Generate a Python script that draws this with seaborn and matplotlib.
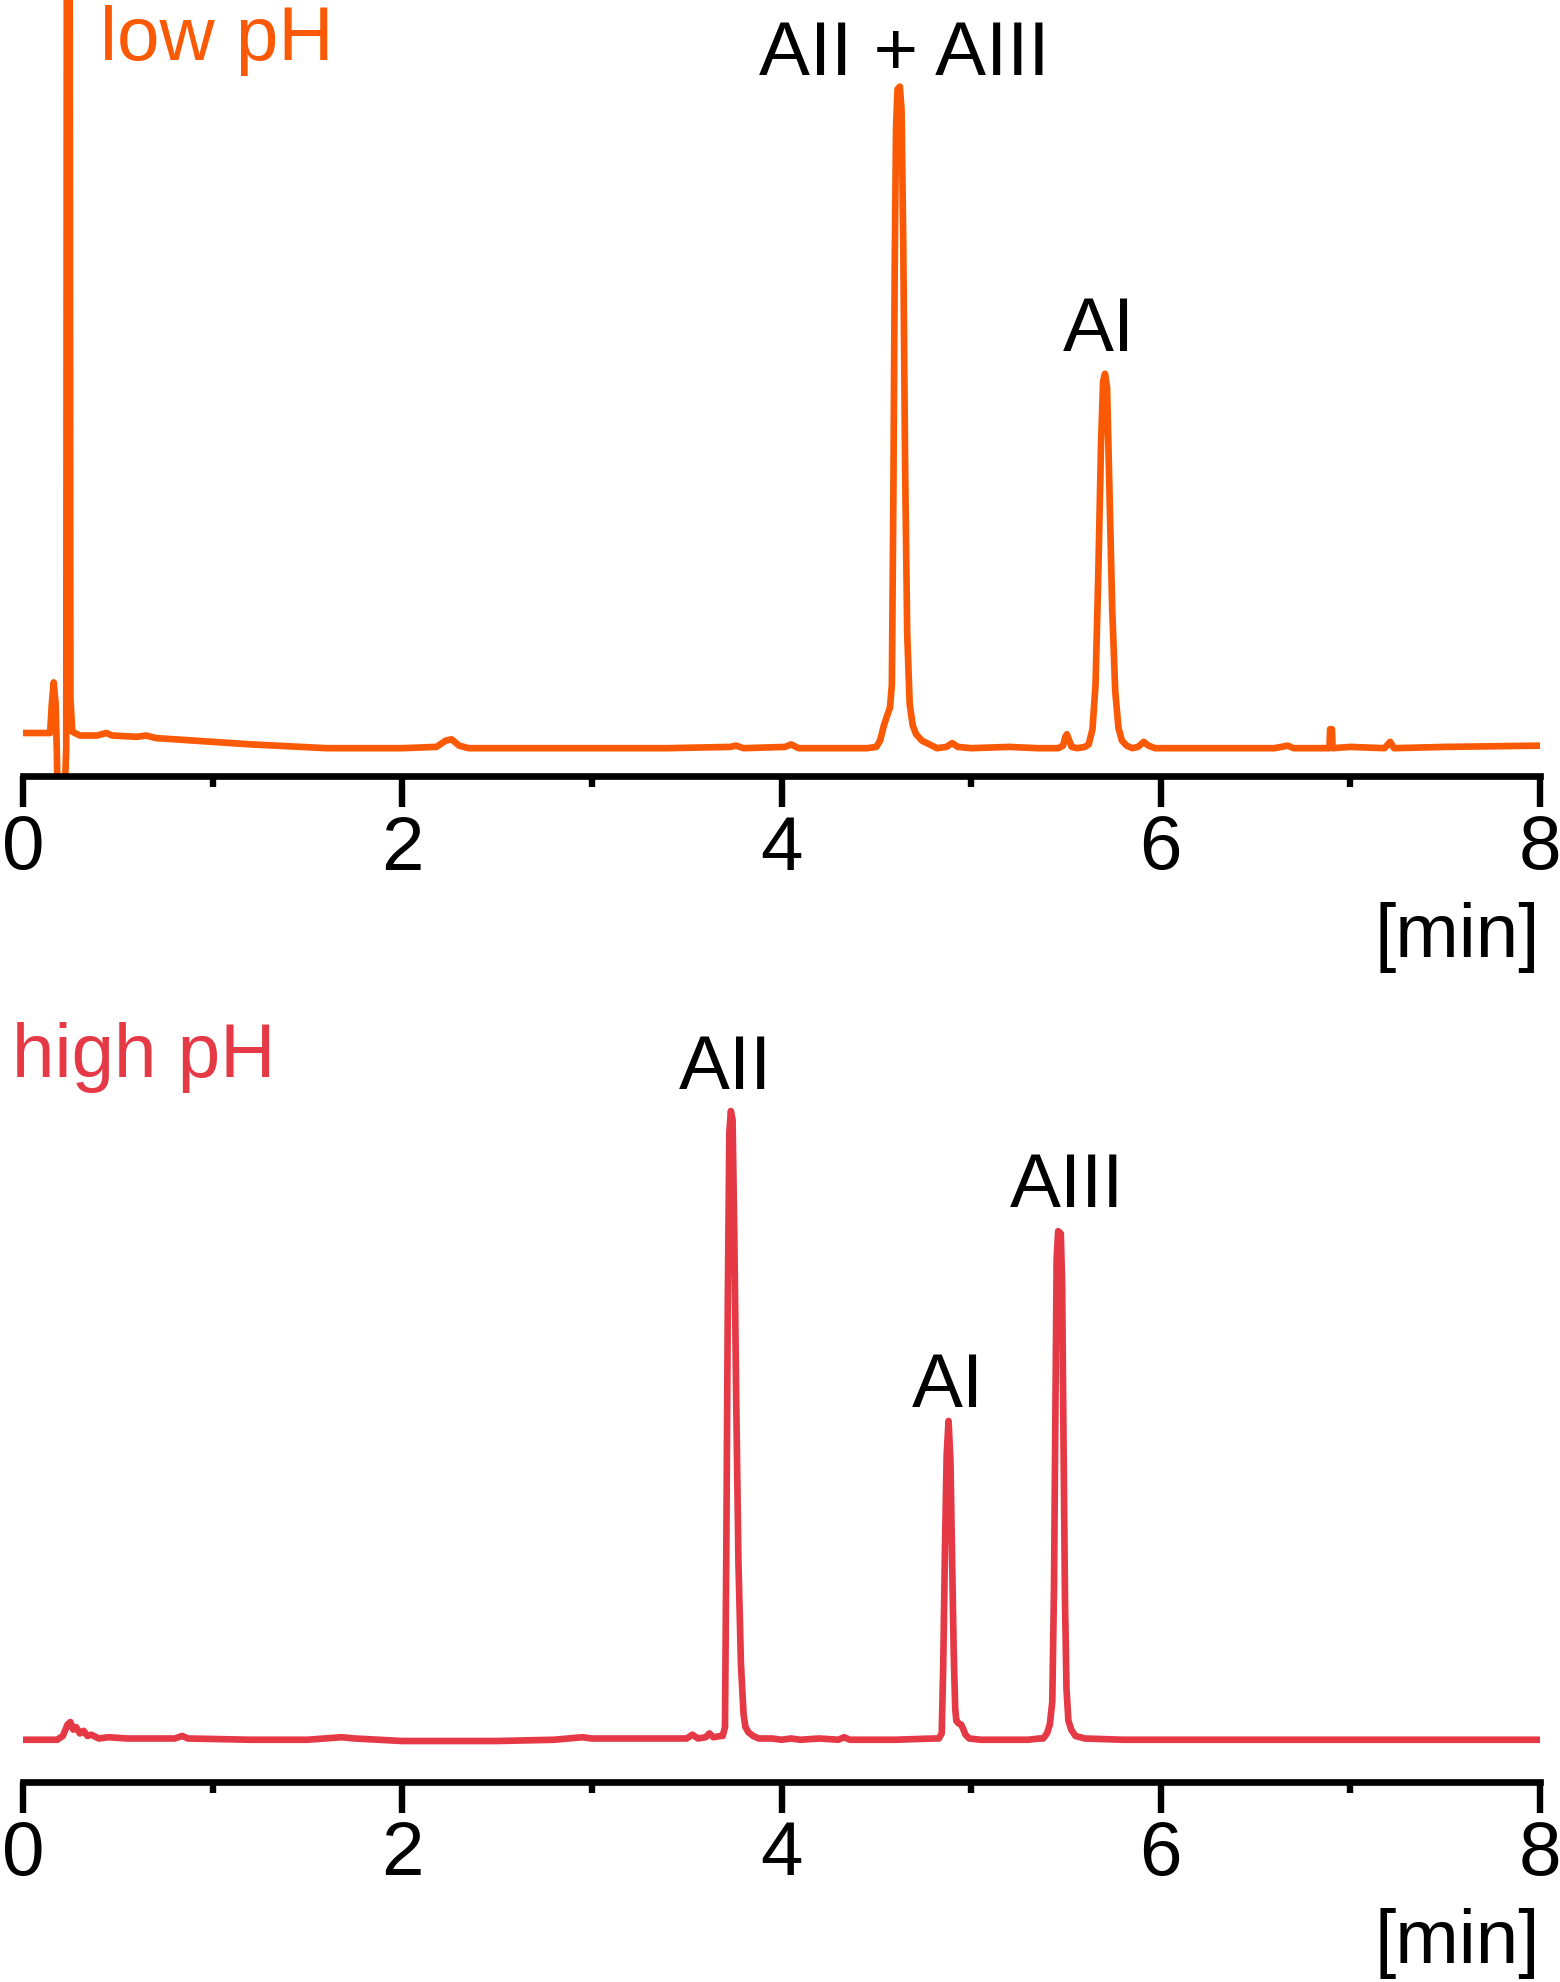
import numpy as np
import pandas as pd
import seaborn as sns
import matplotlib.pyplot as plt

# Chromatogramas: pH bajo (arriba) y pH alto (abajo)

# tiempo [min] y señal (unidades arbitrarias)
low_t = [0.00, 0.10, 0.143, 0.152, 0.162, 0.172, 0.178, 0.185, 0.215, 0.228, 0.234, 0.242,
         0.250, 0.260, 0.30, 0.39, 0.44, 0.47, 0.60, 0.65, 0.70, 0.90, 1.20, 1.60, 2.00,
         2.18, 2.23, 2.26, 2.30, 2.35, 2.80, 3.40, 3.73, 3.76, 3.80, 4.02, 4.05, 4.09, 4.45,
         4.50, 4.52, 4.54, 4.56, 4.572, 4.582, 4.590, 4.597, 4.604, 4.612, 4.624, 4.633,
         4.642, 4.652, 4.663, 4.676, 4.692, 4.710, 4.74, 4.78, 4.82, 4.87, 4.90, 4.93, 5.00,
         5.20, 5.35, 5.46, 5.485, 5.497, 5.505, 5.515, 5.53, 5.56, 5.60, 5.62, 5.64, 5.656,
         5.671, 5.685, 5.696, 5.706, 5.717, 5.730, 5.744, 5.760, 5.777, 5.795, 5.82, 5.85,
         5.88, 5.91, 5.935, 5.97, 6.00, 6.60, 6.67, 6.70, 6.89, 6.893, 6.903, 6.906, 7.00,
         7.18, 7.21, 7.23, 7.50, 8.00]
low_signal = [12, 12, 12, 35, 52, 35, 0, -60, -60, 0, 1200, 1200,
              40, 13, 10, 10, 12, 10, 9, 10, 8, 6, 3, 0, 0,
              1, 6, 7, 2, 0, 0, 0, 1, 2, 0, 1, 3, 0, 0,
              1, 6, 18, 27, 32, 50, 200, 380, 490, 521, 523, 505,
              400, 220, 90, 35, 18, 11, 6, 3, 0, 1, 4, 1, 0,
              1, 0, 0, 2, 9, 11, 7, 1, 0, 1, 3, 15, 50,
              140, 240, 290, 296, 285, 200, 110, 45, 16, 6, 2, 0,
              1, 5, 2, 0, 0, 0, 2, 0, 0, 15, 15, 0, 1,
              0, 5, 0, 1, 2]

high_t = [0.00, 0.18, 0.21, 0.235, 0.25, 0.265, 0.28, 0.30, 0.32, 0.34, 0.36, 0.40, 0.45,
          0.55, 0.80, 0.84, 0.87, 1.20, 1.50, 1.68, 1.75, 2.00, 2.50, 2.80, 2.95, 3.00,
          3.30, 3.50, 3.53, 3.56, 3.60, 3.62, 3.64, 3.68, 3.69, 3.702, 3.709, 3.717, 3.725,
          3.733, 3.742, 3.751, 3.762, 3.773, 3.786, 3.800, 3.810, 3.825, 3.85, 3.88, 3.95,
          4.00, 4.05, 4.10, 4.20, 4.30, 4.33, 4.36, 4.60, 4.80, 4.83, 4.845, 4.853, 4.862,
          4.871, 4.881, 4.891, 4.900, 4.908, 4.916, 4.922, 4.933, 4.947, 4.957, 4.97, 4.99,
          5.05, 5.30, 5.36, 5.38, 5.40, 5.415, 5.428, 5.437, 5.444, 5.451, 5.459, 5.473, 5.480,
          5.487, 5.495, 5.503, 5.513, 5.528, 5.55, 5.60, 5.80, 6.00, 6.50, 7.00, 7.50, 8.00]
high_signal = [0, 0, 3, 12, 14, 8, 10, 5, 7, 3, 4, 1, 2,
               1, 1, 3, 1, 0, 0, 2, 1, -1, -1, 0, 2, 1,
               1, 1, 4, 1, 2, 5, 2, 3, 3, 10, 150, 350, 480,
               497, 490, 400, 260, 140, 60, 20, 10, 6, 3, 1, 1,
               0, 1, 0, 1, 0, 2, 0, 0, 1, 1, 5, 60, 150,
               225, 252, 220, 140, 70, 25, 15, 13, 12, 9, 4, 1,
               0, 0, 1, 1, 5, 12, 30, 120, 250, 380, 402, 400, 360,
               240, 110, 40, 15, 8, 3, 1, 0, 0, 0, 0, 0, 0]

# etiquetas de picos (texto, tiempo, altura)
low_labels = ["AII + AIII", "AI"]
low_label_t = [4.647, 5.673]
low_label_y = [533, 315]
high_labels = ["AII", "AI", "AIII"]
high_label_t = [3.707, 4.880, 5.507]
high_label_y = [515, 264, 422]

color_low = "#FA5A05"
color_high = "#E63946"

sns.set_theme(style="white")
plt.rcParams["font.family"] = ["Liberation Sans", "DejaVu Sans"]
FS = 55
LW = 4.8

df_low = pd.DataFrame({"t": low_t, "s": low_signal})
df_high = pd.DataFrame({"t": high_t, "s": high_signal})

W, H = 1560, 1983
fig = plt.figure(figsize=(W / 100, H / 100), dpi=100)
ax_top = fig.add_axes([23 / W, 1 - 777 / H, 1517 / W, 777 / H])
ax_bot = fig.add_axes([23 / W, 1 - 1782.5 / H, 1517 / W, (1782.5 - 1011.7) / H])


def estilo_eje(ax, ymin, ymax):
    ax.set_xlim(0, 8)
    ax.set_ylim(ymin, ymax)
    for lado in ["left", "right", "top"]:
        ax.spines[lado].set_visible(False)
    ax.spines["bottom"].set_linewidth(4.8)
    ax.spines["bottom"].set_color("black")
    ax.set_yticks([])
    ax.set_xticks([0, 2, 4, 6, 8])
    ax.set_xticks([1, 3, 5, 7], minor=True)
    ax.tick_params(axis="x", which="major", bottom=True, length=22, width=4.6,
                   color="black", labelsize=FS, pad=5, labelcolor="black")
    ax.tick_params(axis="x", which="minor", bottom=True, length=8, width=4.6, color="black")
    ax.set_xlabel("[min]", loc="right", fontsize=FS, labelpad=12, color="black")
    ax.set_ylabel("")
    ax.patch.set_alpha(0)


sns.lineplot(data=df_low, x="t", y="s", ax=ax_top, color=color_low, linewidth=LW,
             estimator=None, sort=False)
sns.lineplot(data=df_high, x="t", y="s", ax=ax_bot, color=color_high, linewidth=LW,
             estimator=None, sort=False)
for ax in (ax_top, ax_bot):
    for ln in ax.get_lines():
        ln.set_linewidth(LW)
        ln.set_solid_joinstyle("round")

estilo_eje(ax_top, -22, 592.3)
estilo_eje(ax_bot, -33, 576.3)

for txt, t, y in zip(low_labels, low_label_t, low_label_y):
    ax_top.text(t, y, txt, ha="center", va="baseline", fontsize=FS, color="black")
for txt, t, y in zip(high_labels, high_label_t, high_label_y):
    ax_bot.text(t, y, txt, ha="center", va="baseline", fontsize=FS, color="black")

fig.text(100 / W, 1 - 60 / H, "low pH", fontsize=FS, color=color_low, va="baseline")
fig.text(12 / W, 1 - 1076.7 / H, "high pH", fontsize=FS, color=color_high, va="baseline")

fig.savefig("out.png", dpi=100)
